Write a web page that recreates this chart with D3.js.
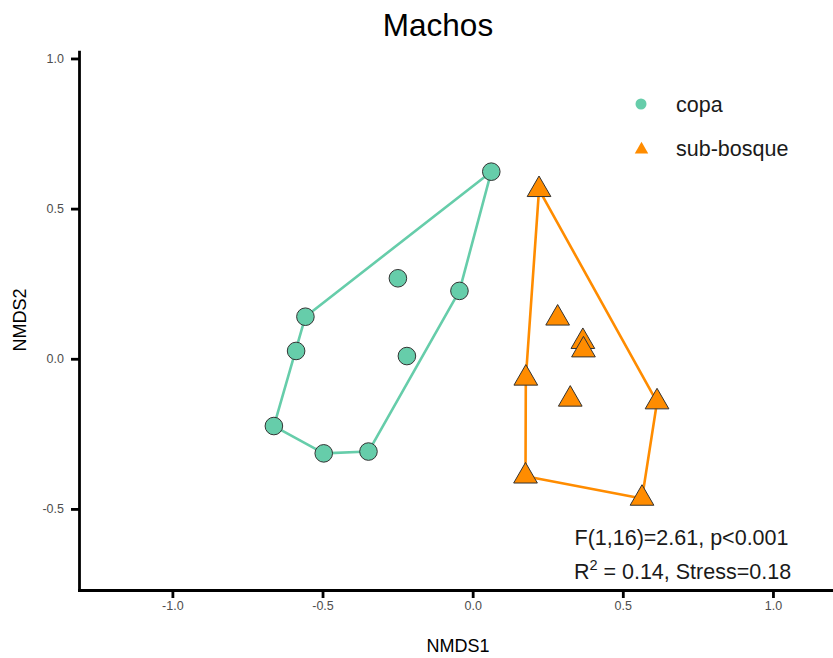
<!DOCTYPE html>
<html>
<head>
<meta charset="utf-8">
<script src="https://cdn.jsdelivr.net/npm/d3@7"></script>
<style>
  body { margin: 0; background: #fff; }
  text { font-family: "Liberation Sans", Arial, Helvetica, sans-serif; }
</style>
</head>
<body>
<svg id="chart" width="833" height="658"></svg>
<script>
// ---- Data ----
const groups = ["copa", "sub-bosque"];
const groupColors = ["#66CDAA", "#FF8C00"];

const copaX = [0.062, -0.249, -0.044, -0.557, -0.588, -0.219, -0.662, -0.496, -0.347];
const copaY = [0.623, 0.268, 0.226, 0.140, 0.026, 0.009, -0.224, -0.315, -0.309];

const subX = [0.221, 0.283, 0.367, 0.369, 0.177, 0.325, 0.614, 0.176, 0.564];
const subY = [0.563, 0.135, 0.057, 0.029, -0.065, -0.135, -0.144, -0.391, -0.465];

const xTicks = [-1.0, -0.5, 0.0, 0.5, 1.0];
const xTickLabels = ["-1.0", "-0.5", "0.0", "0.5", "1.0"];
const yTicks = [-0.5, 0.0, 0.5, 1.0];
const yTickLabels = ["-0.5", "0.0", "0.5", "1.0"];

const titleText = "Machos";
const xLabel = "NMDS1";
const yLabel = "NMDS2";
const statLine1 = "F(1,16)=2.61, p<0.001";

// ---- Layout ----
const svg = d3.select("#chart");
const mLeft = 79, mRight = 833, mTop = 51.7, mBottom = 590;

const x = d3.scaleLinear().domain([-1.311, 1.2]).range([mLeft, mRight]);
const y = d3.scaleLinear().domain([-0.77, 1.0225]).range([mBottom, mTop]);

const series = [
  { name: groups[0], color: groupColors[0], shape: "circle",
    pts: copaX.map((v, i) => [v, copaY[i]]) },
  { name: groups[1], color: groupColors[1], shape: "triangle",
    pts: subX.map((v, i) => [v, subY[i]]) }
];

const R = 8.8;
function triPath(r) {
  const a = 1.5551 * r, b = 0.7776 * r, w = 1.3468 * r;
  return `M0,${-a}L${w},${b}L${-w},${b}Z`;
}

// hulls
series.forEach(s => {
  const screen = s.pts.map(p => [x(p[0]), y(p[1])]);
  const hull = d3.polygonHull(screen);
  svg.append("path")
    .attr("d", "M" + hull.map(p => p.join(",")).join("L") + "Z")
    .attr("fill", "none")
    .attr("stroke", s.color)
    .attr("stroke-width", 2.6)
    .attr("stroke-linejoin", "round");
});

// points
series.forEach(s => {
  const g = svg.append("g");
  if (s.shape === "circle") {
    g.selectAll("circle").data(s.pts).join("circle")
      .attr("cx", d => x(d[0])).attr("cy", d => y(d[1])).attr("r", R)
      .attr("fill", s.color).attr("stroke", "#333").attr("stroke-width", 1);
  } else {
    g.selectAll("path").data(s.pts).join("path")
      .attr("transform", d => `translate(${x(d[0])},${y(d[1])})`)
      .attr("d", triPath(R))
      .attr("fill", s.color).attr("stroke", "#333").attr("stroke-width", 1);
  }
});

// axes
const xAxis = d3.axisBottom(x).tickValues(xTicks)
  .tickFormat((d, i) => xTickLabels[i]).tickSize(8).tickSizeOuter(0).tickPadding(3);
const yAxis = d3.axisLeft(y).tickValues(yTicks)
  .tickFormat((d, i) => yTickLabels[i]).tickSize(8).tickSizeOuter(0).tickPadding(7);

const gx = svg.append("g").attr("transform", `translate(0,${mBottom})`).call(xAxis);
const gy = svg.append("g").attr("transform", `translate(${mLeft},0)`).call(yAxis);
[gx, gy].forEach(g => {
  g.attr("font-size", 12.5);
  g.select(".domain").attr("stroke", "#000").attr("stroke-width", 2.8).attr("stroke-linecap", "square");
  g.selectAll(".tick line").attr("stroke", "#000").attr("stroke-width", 2.8);
  g.selectAll(".tick text").attr("fill", "#4D4D4D").attr("font-size", 12.5)
    .style("font-family", '"Liberation Sans", Arial, Helvetica, sans-serif');
});

// title
svg.append("text").attr("x", 438).attr("y", 36).attr("text-anchor", "middle")
  .attr("font-size", 31.5).attr("fill", "#000").text(titleText);

// axis labels
svg.append("text").attr("x", 458).attr("y", 652).attr("text-anchor", "middle")
  .attr("font-size", 18).attr("fill", "#000").text(xLabel);
svg.append("text").attr("transform", "translate(26,320) rotate(-90)")
  .attr("text-anchor", "middle").attr("font-size", 18).attr("fill", "#000").text(yLabel);

// legend
const leg = svg.append("g");
series.forEach((s, i) => {
  const cy = 104 + i * 44.5;
  if (s.shape === "circle") {
    leg.append("circle").attr("cx", 641).attr("cy", cy).attr("r", 5.5).attr("fill", s.color);
  } else {
    leg.append("path").attr("transform", `translate(641.5,${cy + 1})`)
      .attr("d", triPath(5)).attr("fill", s.color);
  }
  leg.append("text").attr("x", 676).attr("y", cy + 7.5)
    .attr("font-size", 21.5).attr("fill", "#1a1a1a").text(s.name);
});

// stats annotation
svg.append("text").attr("x", 681.5).attr("y", 545).attr("text-anchor", "middle")
  .attr("font-size", 21.5).attr("fill", "#1a1a1a").text(statLine1);
const t2 = svg.append("text").attr("x", 682.5).attr("y", 578.5).attr("text-anchor", "middle")
  .attr("font-size", 21.5).attr("fill", "#1a1a1a");
t2.append("tspan").text("R");
t2.append("tspan").attr("dy", -9).attr("font-size", 14.5).text("2");
t2.append("tspan").attr("dy", 9).text(" = 0.14, Stress=0.18");
</script>
</body>
</html>
